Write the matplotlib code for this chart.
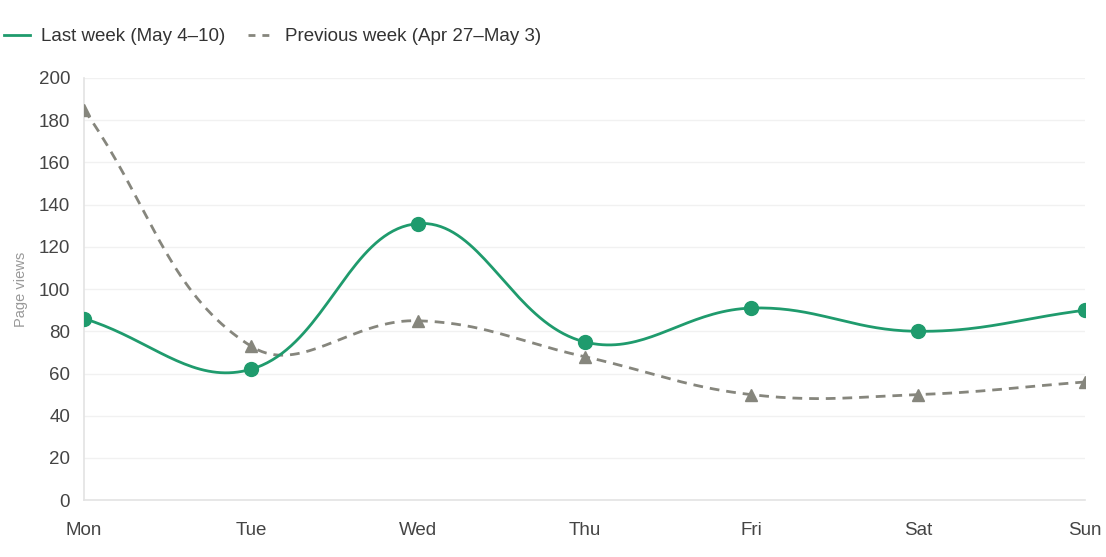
import numpy as np
import matplotlib
matplotlib.use('Agg')
import matplotlib.pyplot as plt
from matplotlib.lines import Line2D

plt.rcParams['font.family'] = ['Liberation Sans', 'DejaVu Sans']

days = ['Mon', 'Tue', 'Wed', 'Thu', 'Fri', 'Sat', 'Sun']
last_week = [86, 62, 131, 75, 91, 80, 90]
prev_week = [185, 73, 85, 68, 50, 50, 56]

GREEN = '#1f9b6d'
GREY = '#86867d'


def smooth(xs, ys, sx, sy, t=0.4, n=40):
    # chart.js style bezier, distances measured in pixel space
    px = np.asarray(xs, float) * sx
    py = np.asarray(ys, float) * sy
    m = len(px)
    c_in = np.zeros((m, 2))
    c_out = np.zeros((m, 2))
    for i in range(m):
        p = np.array([px[i], py[i]])
        a = np.array([px[max(i - 1, 0)], py[max(i - 1, 0)]])
        b = np.array([px[min(i + 1, m - 1)], py[min(i + 1, m - 1)]])
        d01 = np.hypot(*(p - a))
        d12 = np.hypot(*(b - p))
        tot = d01 + d12
        s01 = d01 / tot if tot else 0
        s12 = d12 / tot if tot else 0
        c_in[i] = p - t * s01 * (b - a)
        c_out[i] = p + t * s12 * (b - a)
    outx, outy = [], []
    u = np.linspace(0, 1, n)
    for i in range(m - 1):
        p0 = np.array([px[i], py[i]])
        p3 = np.array([px[i + 1], py[i + 1]])
        p1, p2 = c_out[i], c_in[i + 1]
        pts = ((1 - u) ** 3)[:, None] * p0 + (3 * (1 - u) ** 2 * u)[:, None] * p1 \
            + (3 * (1 - u) * u ** 2)[:, None] * p2 + (u ** 3)[:, None] * p3
        outx.extend(pts[:, 0])
        outy.extend(pts[:, 1])
    return np.array(outx) / sx, np.array(outy) / sy


fig = plt.figure(figsize=(11.06, 5.57), dpi=100)
ax = fig.add_axes([0.076, 0.102, 0.905, 0.758])

x = np.arange(len(days))
sx, sy = 166.8, 2.11

gx, gy = smooth(x, last_week, sx, sy)
ax.plot(gx, gy, color=GREEN, lw=2, zorder=4)
ax.plot(x, last_week, 'o', color=GREEN, ms=10, zorder=5)

px_, py_ = smooth(x, prev_week, sx, sy)
ax.plot(px_, py_, color=GREY, lw=2, ls=(0, (3.5, 2.5)), zorder=3)
ax.plot(x, prev_week, '^', color=GREY, ms=9, zorder=3)

ax.set_xlim(0, 6)
ax.set_ylim(0, 200)
ax.set_yticks(range(0, 201, 20))
ax.set_xticks(x)
ax.set_xticklabels(days)
ax.grid(axis='y', color='#f1f1f1', lw=1)
ax.set_axisbelow(True)
for s in ['top', 'right']:
    ax.spines[s].set_visible(False)
for s in ['left', 'bottom']:
    ax.spines[s].set_color('#e3e3e3')
    ax.spines[s].set_linewidth(1.2)
ax.tick_params(length=0, labelsize=13.5, colors='#444444')
ax.tick_params(axis='x', pad=16)
ax.tick_params(axis='y', pad=10)
ax.set_ylabel('Page views', color='#999999', fontsize=10.5, labelpad=8)

handles = [Line2D([], [], color=GREEN, lw=2),
           Line2D([], [], color=GREY, lw=2, ls=(0, (2.5, 2.5)))]
fig.legend(handles, ['Last week (May 4\u201310)', 'Previous week (Apr 27\u2013May 3)'],
           loc='upper left', bbox_to_anchor=(-0.012, 0.98), ncol=2, frameon=False,
           fontsize=13.5, handlelength=1.4, handletextpad=0.6, columnspacing=1.2,
           labelcolor='#333333')

fig.savefig('out.png', dpi=100)
